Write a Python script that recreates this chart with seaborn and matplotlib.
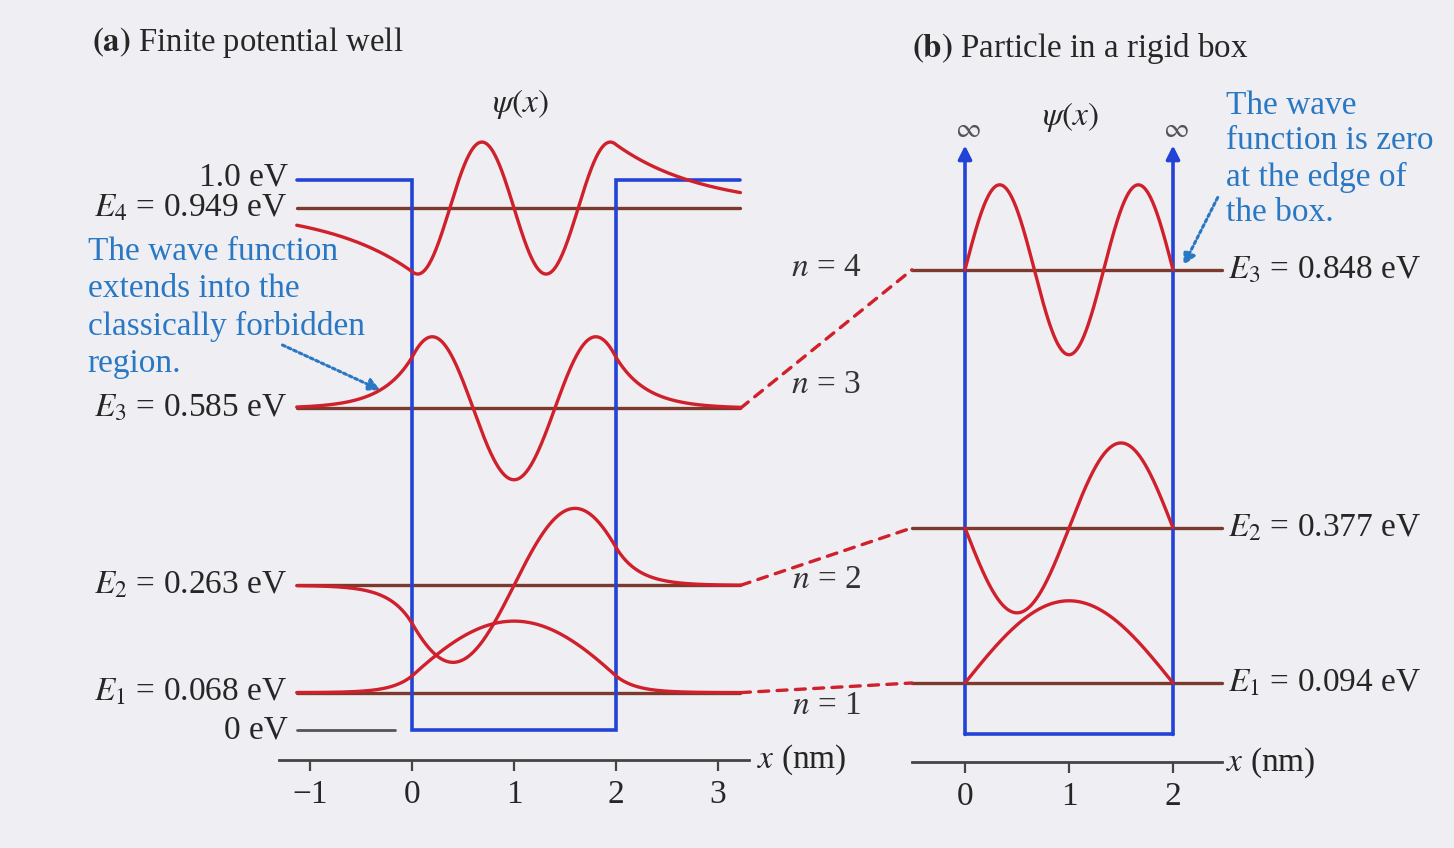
import numpy as np
import pandas as pd
import matplotlib.pyplot as plt
from matplotlib.patches import ConnectionPatch
import seaborn as sns

# ---------------------------------------------------------------------------
# DATA
# ---------------------------------------------------------------------------
well_levels = [0.068, 0.263, 0.585, 0.949]      # finite well, eV
box_levels = [0.094, 0.377, 0.848]              # rigid box, eV
well_depth = 1.0                                # eV
well_width = 2.0                                # nm
well_labels = ["$E_1$ = 0.068 eV", "$E_2$ = 0.263 eV", "$E_3$ = 0.585 eV", "$E_4$ = 0.949 eV"]
box_labels = ["$E_1$ = 0.094 eV", "$E_2$ = 0.377 eV", "$E_3$ = 0.848 eV"]
n_labels = ["$n$ = 1", "$n$ = 2", "$n$ = 3", "$n$ = 4"]
n_label_y = [0.045, 0.273, 0.628, 0.84]
# drawn size of psi(x) around each level (eV units) and its sign
well_amp = [0.13, 0.14, 0.13, 0.12]
well_sign = [1, 1, -1, -1]
box_amp = [0.15, 0.155, 0.155]
box_sign = [1, -1, 1]
well_ticks = [-1, 0, 1, 2, 3]
box_ticks = [0, 1, 2]

HB2M = 0.0381  # hbar^2 / 2m for an electron, eV nm^2

RED = "#d0202c"
LEVEL = "#7d3a2c"
BLUE = "#2343d6"
TEXTBLUE = "#2a78c4"
BG = "#efeff3"

sns.set_theme(style="white")
plt.rcParams["font.family"] = ["Liberation Serif", "DejaVu Serif"]
plt.rcParams["mathtext.fontset"] = "stix"


def finite_psi(x, E, n):
    k = np.sqrt(E / HB2M)
    kap = np.sqrt((well_depth - E) / HB2M)
    half = well_width / 2
    u = x - half
    if n % 2 == 1:
        inside = np.cos(k * u)
        outside = np.cos(k * half) * np.exp(-kap * (np.abs(u) - half))
    else:
        inside = np.sin(k * u)
        outside = np.sign(u) * np.sin(k * half) * np.exp(-kap * (np.abs(u) - half))
    psi = np.where(np.abs(u) <= half, inside, outside)
    return psi / np.abs(psi).max()


fig = plt.figure(figsize=(14.54, 8.48), dpi=100, facecolor=BG)
ax_a = fig.add_axes([0.18865, 0.05807, 0.32971, 0.83343])
ax_b = fig.add_axes([0.62077, 0.05307, 0.22889, 0.83042])
ax_a.set_xlim(-1.35, 3.35)
ax_b.set_xlim(-0.6, 2.6)
for ax, axis_y in ((ax_a, -0.0545), (ax_b, -0.050)):
    ax.set_ylim(-0.125, 1.16)
    ax.set_facecolor("none")
    for s in ("left", "right", "top"):
        ax.spines[s].set_visible(False)
    ax.spines["bottom"].set_position(("data", axis_y))
    ax.spines["bottom"].set_color("#444444")
    ax.spines["bottom"].set_linewidth(2)
    ax.set_yticks([])
    ax.tick_params(axis="x", direction="out", length=8, width=1.6, color="#444444",
                   labelsize=24, pad=6, bottom=True)

ax_a.spines["bottom"].set_bounds(-1.3, 3.3)
ax_b.spines["bottom"].set_bounds(-0.51, 2.47)
ax_a.set_xticks(well_ticks)
ax_a.set_xticklabels([str(t).replace("-", "\u2212") for t in well_ticks])
ax_b.set_xticks(box_ticks)
ax_b.set_xticklabels([str(t) for t in box_ticks])

# ---------------------------------------------------------------------------
# (a) finite potential well
# ---------------------------------------------------------------------------
ax_a.plot([-1.13, 0, 0, 2, 2, 3.22], [well_depth, well_depth, 0, 0, well_depth, well_depth],
          color=BLUE, lw=2.6, solid_joinstyle="miter", zorder=3)
ax_a.plot([-1.13, -0.17], [0, 0], color="#555555", lw=2)

xa = np.linspace(-1.13, 3.22, 600)
for i, E in enumerate(well_levels):
    ax_a.plot([-1.13, 3.22], [E, E], color=LEVEL, lw=2.4, zorder=2)
    df = pd.DataFrame({"x": xa, "y": E + well_sign[i] * well_amp[i] * finite_psi(xa, E, i + 1)})
    sns.lineplot(data=df, x="x", y="y", ax=ax_a, color=RED, lw=2.4, estimator=None,
                 sort=False, zorder=4)
    ax_a.text(-1.22, E, well_labels[i], ha="right", va="center", fontsize=24)
    ax_a.text(4.06, n_label_y[i], n_labels[i], ha="center", va="center", fontsize=24,
              color="#333333", clip_on=False)

ax_a.text(-1.22, well_depth + 0.005, "1.0 eV", ha="right", va="center", fontsize=24)
ax_a.text(-1.22, 0, "0 eV", ha="right", va="center", fontsize=24)
ax_a.text(1.06, 1.138, r"$\psi(x)$", ha="center", va="center", fontsize=24)
ax_a.text(3.38, -0.0545, "$x$ (nm)", ha="left", va="center", fontsize=24, clip_on=False)
ax_a.text(-3.18, 0.898, "The wave function\nextends into the\nclassically forbidden\nregion.",
          ha="left", va="top", fontsize=24, color=TEXTBLUE, linespacing=1.29, clip_on=False)
ax_a.annotate("", xy=(-0.31, 0.618), xytext=(-1.27, 0.70),
              arrowprops=dict(arrowstyle="-|>", color=TEXTBLUE, lw=2.2, ls=(0, (1, 1)),
                              mutation_scale=18, shrinkA=0, shrinkB=0), annotation_clip=False)

# ---------------------------------------------------------------------------
# (b) particle in a rigid box
# ---------------------------------------------------------------------------
ax_b.plot([0, 2], [0, 0], color=BLUE, lw=2.6, zorder=3)
for xw in (0, 2):
    ax_b.annotate("", xy=(xw, 1.075), xytext=(xw, 0),
                  arrowprops=dict(arrowstyle="-|>", color=BLUE, lw=2.6, mutation_scale=20,
                                  shrinkA=0, shrinkB=0), zorder=3)
    ax_b.text(xw + 0.03, 1.102, r"$\infty$", ha="center", va="center", fontsize=20, color="#555555")

xb = np.linspace(0, well_width, 400)
for i, E in enumerate(box_levels):
    ax_b.plot([-0.51, 2.47], [E, E], color=LEVEL, lw=2.4, zorder=2)
    df = pd.DataFrame({"x": xb, "y": E + box_sign[i] * box_amp[i] * np.sin((i + 1) * np.pi * xb / well_width)})
    sns.lineplot(data=df, x="x", y="y", ax=ax_b, color=RED, lw=2.4, estimator=None,
                 sort=False, zorder=4)
    ax_b.text(2.53, E, box_labels[i], ha="left", va="center", fontsize=24, clip_on=False)
    con = ConnectionPatch(xyA=(3.22, well_levels[i]), coordsA=ax_a.transData,
                          xyB=(-0.51, E), coordsB=ax_b.transData,
                          color=RED, lw=2.4, ls=(0, (3, 2.5)))
    fig.add_artist(con)

ax_b.text(1.01, 1.126, r"$\psi(x)$", ha="center", va="center", fontsize=24)
ax_b.text(2.51, -0.052, "$x$ (nm)", ha="left", va="center", fontsize=24, clip_on=False)
ax_b.text(2.51, 1.176, "The wave\nfunction is zero\nat the edge of\nthe box.",
          ha="left", va="top", fontsize=24, color=TEXTBLUE, linespacing=1.22, clip_on=False)
ax_b.annotate("", xy=(2.1, 0.856), xytext=(2.43, 0.98),
              arrowprops=dict(arrowstyle="-|>", color=TEXTBLUE, lw=2.2, ls=(0, (1, 1)),
                              mutation_scale=18, shrinkA=0, shrinkB=0), annotation_clip=False)

for ax in (ax_a, ax_b):
    ax.set_xlabel("")
    ax.set_ylabel("")

fig.text(92 / 1454, 1 - 42 / 848, r"$\mathbf{(a)}$ Finite potential well", ha="left", va="center", fontsize=23.6)
fig.text(912 / 1454, 1 - 48 / 848, r"$\mathbf{(b)}$ Particle in a rigid box", ha="left", va="center", fontsize=23.8)

fig.savefig("out.png", dpi=100, facecolor=BG)
